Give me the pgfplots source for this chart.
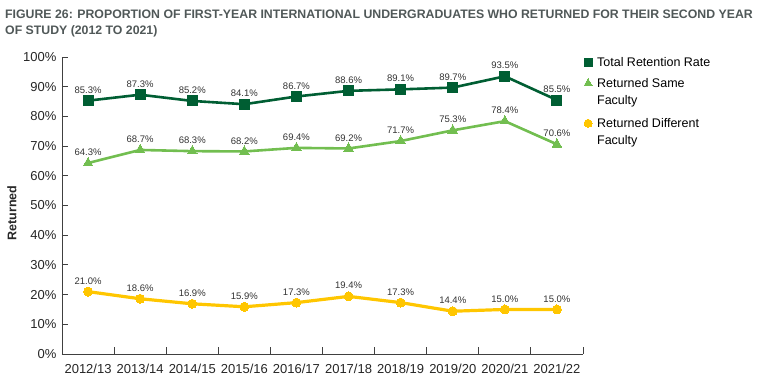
\documentclass[border=0pt]{standalone}
\usepackage{pgfplots}
\pgfplotsset{compat=1.18}
\usepackage{fontspec}
\setmainfont{Liberation Sans}
\definecolor{dgreen}{RGB}{0,94,51}
\definecolor{lgreen}{RGB}{114,190,80}
\definecolor{gold}{RGB}{255,198,0}
\definecolor{titlegray}{RGB}{80,88,88}
\definecolor{axisgray}{RGB}{64,64,64}
\begin{document}
\begin{tikzpicture}
\useasboundingbox (0,0) rectangle (767pt,387pt);
\node[anchor=north west, inner sep=0pt, align=left, font=\fontsize{12.3}{16}\selectfont\bfseries, text=titlegray] at (5pt,377pt)
 {FIGURE 26: PROPORTION OF FIRST-YEAR INTERNATIONAL UNDERGRADUATES WHO RETURNED FOR THEIR SECOND YEAR\\OF STUDY (2012 TO 2021)};
\begin{axis}[
  at={(62pt,33pt)}, anchor=south west,
  scale only axis, width=521pt, height=297pt,
  xmin=-0.5, xmax=9.5, ymin=0, ymax=100,
  axis lines*=left, axis line style={axisgray, line width=0.9pt, -},
  tick style={axisgray, line width=0.9pt},
  tick align=inside,
  xtick={0,...,9}, major x tick style={draw=none},
  xticklabels={2012/13,2013/14,2014/15,2015/16,2016/17,2017/18,2018/19,2019/20,2020/21,2021/22},
  minor xtick={-0.5,0.5,...,9.5}, minor tick length=7pt,
  ytick={0,10,...,100}, major tick length=6pt,
  yticklabel={\pgfmathprintnumber{\tick}\%},
  /pgf/number format/assume math mode=true,
  ticklabel style={font=\fontsize{13}{15}\selectfont, text=black!85},
  xticklabel style={yshift=-7pt},
  yticklabel style={xshift=-2pt},
  ylabel={Returned},
  every axis y label/.style={at={(axis description cs:-0.096,0.475)}, rotate=90, anchor=center, font=\fontsize{12.5}{14}\selectfont\bfseries, text=black!85},
  nodes near coords={\pgfmathprintnumber[fixed,fixed zerofill,precision=1]{\pgfplotspointmeta}\%},
  every node near coord/.append style={font=\fontsize{9.5}{11}\selectfont, text=black!80, yshift=4pt},
  legend style={draw=none, fill=none, at={(0.996,1.012)}, anchor=north west,
    font=\fontsize{12.5}{17}\selectfont, row sep=6pt,
    nodes={anchor=base west, inner xsep=5pt}},
  legend cell align=left,
  legend image code/.code={\draw[#1, only marks] plot coordinates {(0.15cm,4pt)};},
]
\addplot[dgreen, line width=2.6pt, mark=square*, mark size=5pt, mark options={line width=0pt}, legend image post style={mark size=4pt}] coordinates {
(0,85.3) (1,87.3) (2,85.2) (3,84.1) (4,86.7) (5,88.6) (6,89.1) (7,89.7) (8,93.5) (9,85.5)};
\addlegendentry{Total Retention Rate}
\addplot[lgreen, line width=2.6pt, mark=triangle*, mark size=5.5pt, mark options={line width=0pt}, legend image post style={mark size=4.5pt}] coordinates {
(0,64.3) (1,68.7) (2,68.3) (3,68.2) (4,69.4) (5,69.2) (6,71.7) (7,75.3) (8,78.4) (9,70.6)};
\addlegendentry[text depth=21pt]{\vtop{\hbox{Returned Same}\hbox{Faculty}}}
\addplot[gold, line width=3.2pt, mark=*, mark size=4.5pt, mark options={line width=0pt}, legend image post style={mark size=4pt}] coordinates {
(0,21.0) (1,18.6) (2,16.9) (3,15.9) (4,17.3) (5,19.4) (6,17.3) (7,14.4) (8,15.0) (9,15.0)};
\addlegendentry[text depth=21pt]{\vtop{\hbox{Returned Different}\hbox{Faculty}}}
\end{axis}
\end{tikzpicture}
\end{document}
